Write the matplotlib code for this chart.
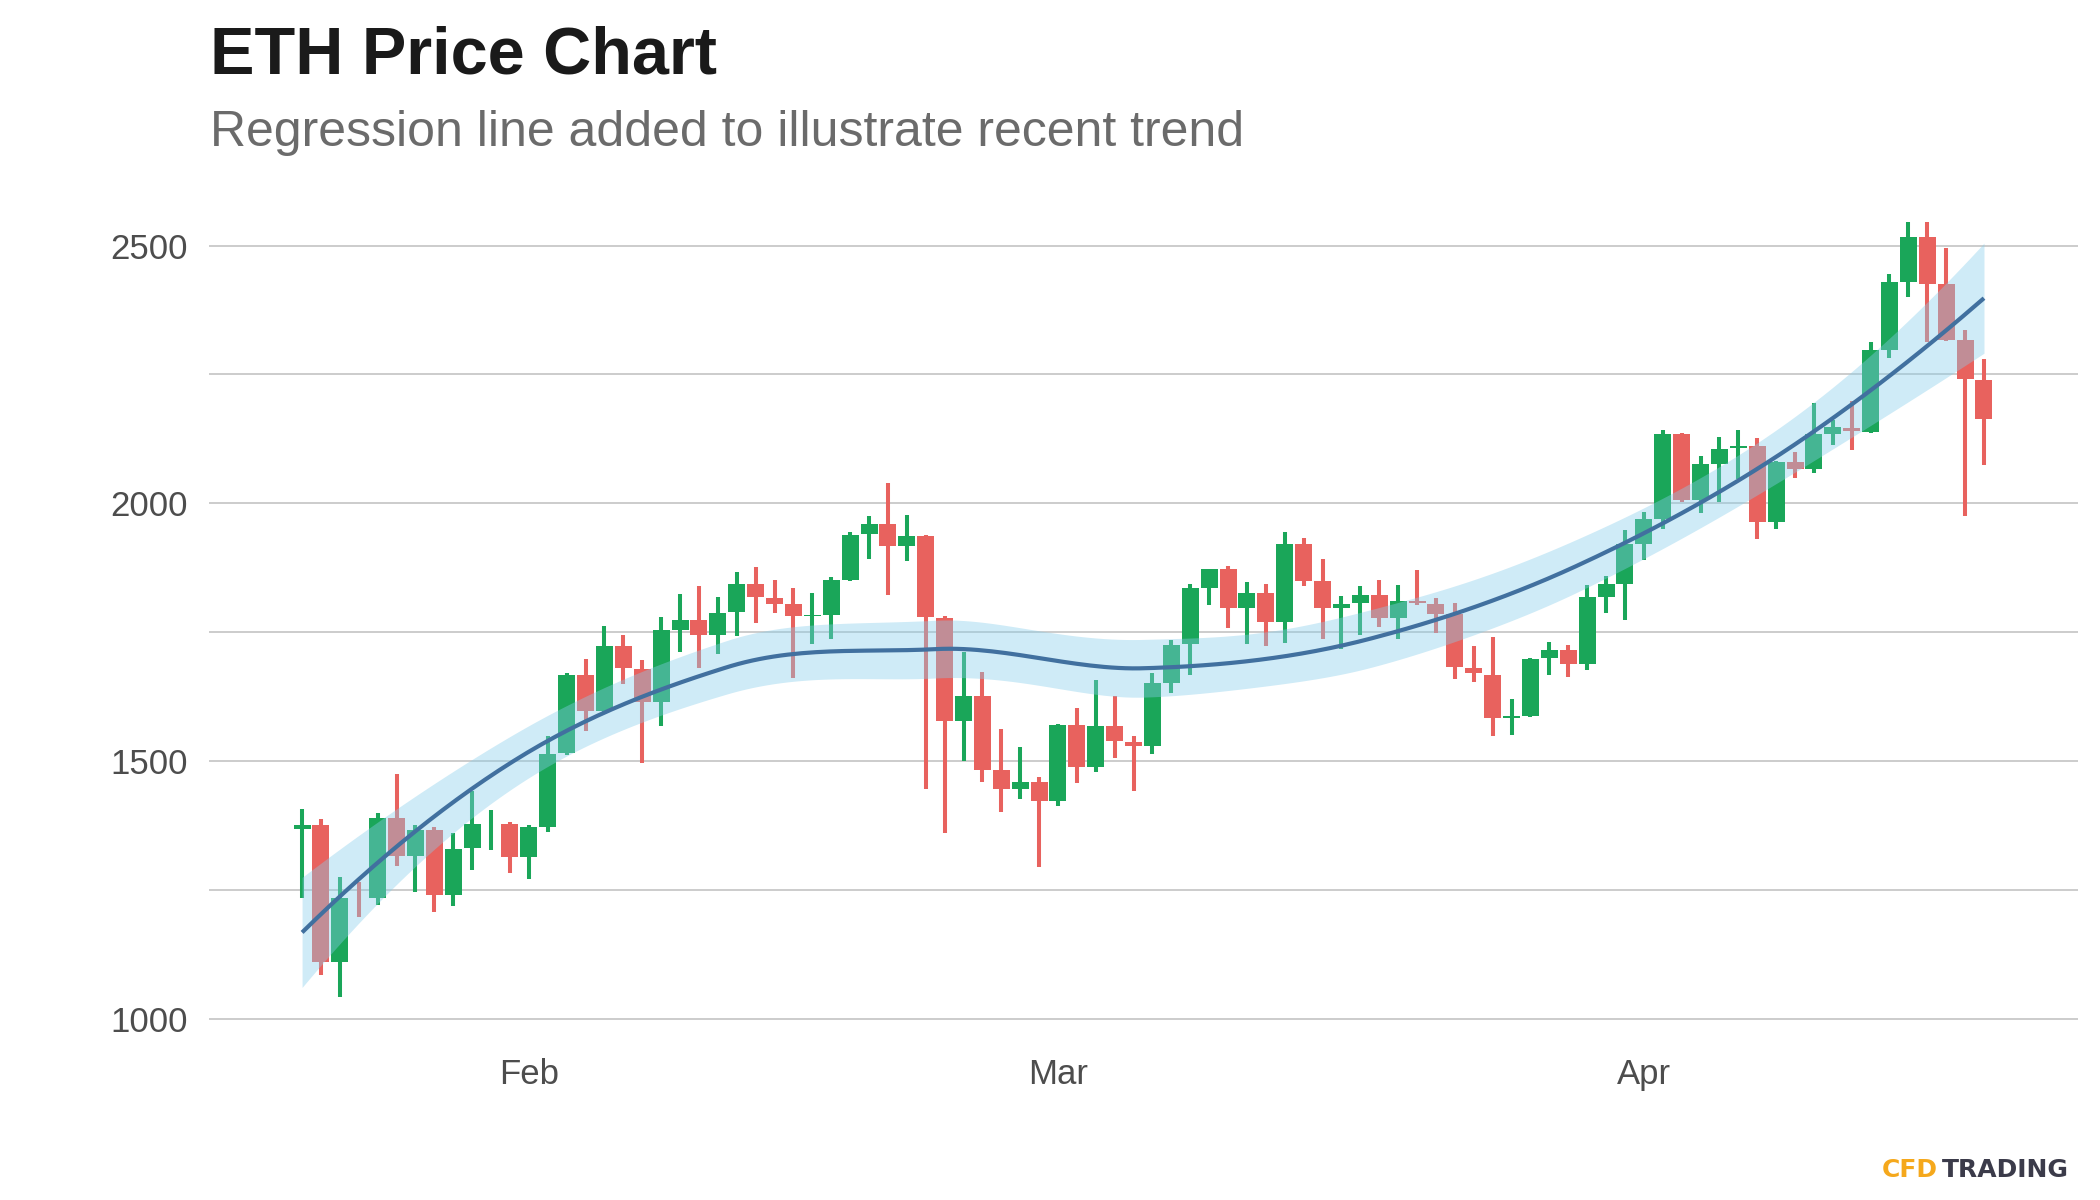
import numpy as np
import pandas as pd
import matplotlib
matplotlib.use("Agg")
import matplotlib.pyplot as plt
import matplotlib.dates as mdates
from matplotlib.ticker import NullFormatter

# ---------------- data (daily ETH candles, 2021) ----------------
dates = pd.date_range("2021-01-20", periods=90, freq="D")
open_ = [1369, 1377, 1110, 1233, 1235, 1390, 1317, 1367, 1241, 1331,
         1381, 1378, 1314, 1373, 1515, 1668, 1597, 1723, 1679, 1615,
         1754, 1773, 1744, 1789, 1844, 1817, 1804, 1782, 1783, 1852,
         1941, 1959, 1917, 1936, 1778, 1578, 1626, 1482, 1446, 1459,
         1422, 1571, 1488, 1569, 1538, 1530, 1651, 1728, 1836, 1872,
         1797, 1827, 1770, 1922, 1849, 1797, 1807, 1823, 1778, 1810,
         1805, 1786, 1681, 1668, 1583, 1587, 1700, 1715, 1689, 1818,
         1843, 1922, 1969, 2134, 2007, 2076, 2107, 2112, 1963, 2081,
         2066, 2135, 2147, 2139, 2298, 2430, 2516, 2425, 2316, 2239]
high = [1408, 1388, 1275, 1266, 1399, 1476, 1377, 1373, 1360, 1442,
        1406, 1382, 1377, 1549, 1671, 1698, 1763, 1745, 1696, 1779,
        1825, 1839, 1819, 1866, 1876, 1852, 1836, 1827, 1858, 1945,
        1975, 2040, 1977, 1938, 1781, 1712, 1673, 1563, 1527, 1469,
        1573, 1604, 1657, 1626, 1549, 1671, 1734, 1844, 1873, 1879,
        1847, 1843, 1944, 1933, 1892, 1820, 1839, 1851, 1841, 1870,
        1817, 1807, 1723, 1741, 1621, 1700, 1732, 1726, 1841, 1859,
        1948, 1983, 2143, 2137, 2092, 2129, 2143, 2127, 2082, 2099,
        2194, 2161, 2198, 2313, 2445, 2545, 2546, 2495, 2337, 2280]
low = [1235, 1085, 1043, 1197, 1222, 1296, 1246, 1207, 1220, 1288,
       1327, 1283, 1272, 1362, 1512, 1559, 1595, 1650, 1497, 1568,
       1712, 1681, 1707, 1742, 1768, 1788, 1662, 1728, 1736, 1850,
       1893, 1822, 1888, 1446, 1361, 1501, 1459, 1401, 1427, 1294,
       1414, 1457, 1479, 1506, 1443, 1514, 1632, 1668, 1802, 1759,
       1728, 1723, 1730, 1839, 1737, 1718, 1744, 1760, 1736, 1802,
       1749, 1659, 1653, 1548, 1550, 1586, 1668, 1663, 1677, 1788,
       1773, 1891, 1950, 2002, 1981, 2003, 2048, 1930, 1950, 2050,
       2058, 2113, 2103, 2137, 2282, 2401, 2313, 2314, 1976, 2074]
close = [1377, 1110, 1234, 1232, 1390, 1317, 1367, 1241, 1330, 1378,
         1381, 1314, 1373, 1514, 1668, 1597, 1723, 1681, 1615, 1754,
         1773, 1744, 1788, 1844, 1818, 1805, 1781, 1784, 1852, 1938,
         1959, 1917, 1936, 1779, 1578, 1626, 1483, 1446, 1459, 1422,
         1571, 1488, 1569, 1539, 1530, 1651, 1726, 1835, 1872, 1797,
         1827, 1770, 1922, 1849, 1797, 1805, 1823, 1778, 1810, 1806,
         1786, 1682, 1670, 1583, 1587, 1699, 1715, 1689, 1818, 1843,
         1921, 1969, 2134, 2007, 2076, 2105, 2111, 1963, 2081, 2066,
         2134, 2148, 2140, 2297, 2430, 2516, 2426, 2316, 2241, 2163]

title = "ETH Price Chart"
subtitle = "Regression line added to illustrate recent trend"
y_major = [1000, 1500, 2000, 2500]
y_minor = [1250, 1750, 2250]

UP = "#1AA659"
DOWN = "#E8625E"


# ---------------- loess (degree 2, span 0.75, kd-tree interpolation) ----------------
def loess_fit(x, y, xs, span=0.75, cell=0.2):
    n = len(x)
    q = int(np.floor(n * span))

    def local_rows(x0):
        d = np.abs(x - x0)
        h = np.sort(d)[q - 1]
        u = np.clip(d / h, 0, 1)
        w = (1 - u ** 3) ** 3
        X = np.vstack([np.ones(n), x - x0, (x - x0) ** 2]).T
        XtW = X.T * w
        A = np.linalg.solve(XtW @ X, XtW)
        return A[0], A[1]

    # kd-tree vertices (1-D)
    srt = np.sort(x)
    fc = int(np.floor(n * span * cell))
    mu = 0.005 * (srt[-1] - srt[0])
    verts = {srt[0] - mu, srt[-1] + mu}

    def split(l1, u1):
        if u1 - l1 + 1 <= fc:
            return
        m1 = (l1 + u1) // 2
        verts.add((srt[m1 - 1] + srt[m1]) / 2)
        split(l1, m1)
        split(m1 + 1, u1)

    split(1, n)
    V = np.array(sorted(verts))
    vals, slopes = zip(*[local_rows(v) for v in V])
    vals = np.array(vals)
    slopes = np.array(slopes)

    def interp_rows(pts):
        rows = []
        for p in pts:
            k = min(max(np.searchsorted(V, p) - 1, 0), len(V) - 2)
            hh = V[k + 1] - V[k]
            t = (p - V[k]) / hh
            h00 = 2 * t ** 3 - 3 * t ** 2 + 1
            h10 = t ** 3 - 2 * t ** 2 + t
            h01 = -2 * t ** 3 + 3 * t ** 2
            h11 = t ** 3 - t ** 2
            rows.append(h00 * vals[k] + h10 * hh * slopes[k]
                        + h01 * vals[k + 1] + h11 * hh * slopes[k + 1])
        return np.array(rows)

    Ld = interp_rows(x)
    res = y - Ld @ y
    IL = np.eye(n) - Ld
    M = IL.T @ IL
    d1 = np.trace(M)
    d2 = np.trace(M @ M)
    sigma = np.sqrt(np.sum(res ** 2) / d1)
    df = d1 ** 2 / d2
    Ls = interp_rows(xs)
    fit = Ls @ y
    se = sigma * np.sqrt(np.sum(Ls ** 2, axis=1))
    z = 1.959964
    t = z + (z ** 3 + z) / (4 * df) + (5 * z ** 5 + 16 * z ** 3 + 3 * z) / (96 * df ** 2)
    return fit, fit - t * se, fit + t * se


x = mdates.date2num(dates)
o = np.array(open_, float)
h = np.array(high, float)
l = np.array(low, float)
c = np.array(close, float)

xs = np.linspace(x[0], x[-1], 240)
fit, lo, hi = loess_fit(x, c, xs)

# ---------------- figure ----------------
plt.rcParams["font.family"] = ["Liberation Sans", "DejaVu Sans"]
fig = plt.figure(figsize=(21, 12), dpi=100)
ax = fig.add_axes([0.0993, 0.1371, 0.8900, 0.7103])

up = c >= o
colors = np.where(up, UP, DOWN)
ax.vlines(x, l, h, colors=colors, linewidth=2.9, zorder=2)
ax.bar(x, np.abs(c - o), bottom=np.minimum(o, c), width=0.9,
       color=colors, linewidth=0, zorder=3)

ax.fill_between(xs, lo, hi, color="skyblue", alpha=0.4, linewidth=0, zorder=4)
ax.plot(xs, fit, color="#41709F", linewidth=3.0, zorder=5, solid_capstyle="butt")

ax.set_xlim(x[0] - 4.95, x[-1] + 4.95)
ax.set_ylim(968, 2621)
ax.set_yticks(y_major)
ax.set_yticks(y_minor, minor=True)
ax.yaxis.set_minor_formatter(NullFormatter())
ax.xaxis.set_major_locator(mdates.MonthLocator())
ax.xaxis.set_major_formatter(mdates.DateFormatter("%b"))

ax.grid(axis="y", which="both", color="#CCCCCC", linewidth=1.4, zorder=0)
ax.grid(axis="x", visible=False)
ax.set_axisbelow(True)
for s in ax.spines.values():
    s.set_visible(False)
ax.tick_params(axis="both", which="both", length=0, labelsize=25, colors="#4D4D4D")
ax.tick_params(axis="y", pad=15)
ax.tick_params(axis="x", pad=16)

fig.text(210 / 2100, 1 - 73 / 1200, title, fontsize=48, fontweight="bold",
         color="#1A1A1A", va="baseline", ha="left")
fig.text(210 / 2100, 1 - 146 / 1200, subtitle, fontsize=36,
         color="#6B6B6B", va="baseline", ha="left")

fig.text(1882 / 2100, 1 - 1177 / 1200, "CFD", fontsize=18, fontweight="bold",
         color="#F5A81C", va="baseline", ha="left", family="DejaVu Sans")
fig.text(2069 / 2100, 1 - 1177 / 1200, "TRADING", fontsize=18, fontweight="bold",
         color="#3B3B4A", va="baseline", ha="right", family="DejaVu Sans")

fig.savefig("out.png", dpi=100, facecolor="white")
